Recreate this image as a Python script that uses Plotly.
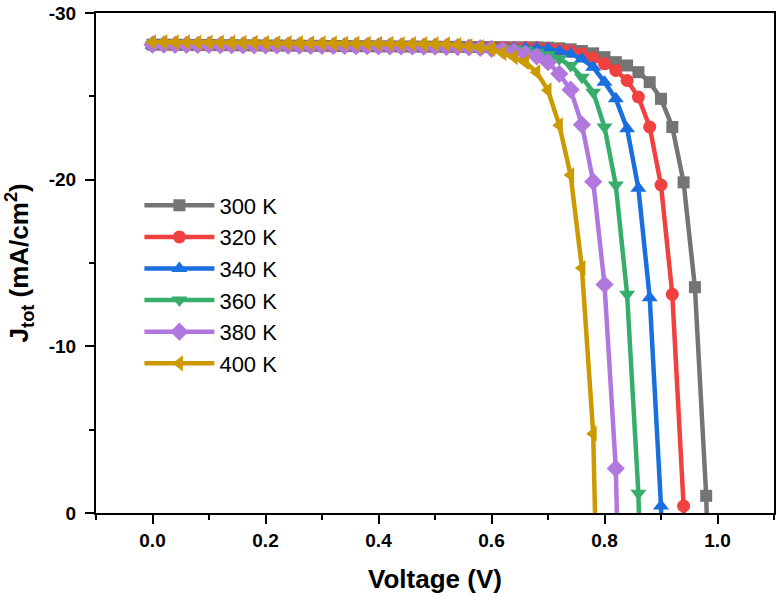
import plotly.graph_objects as go

# Voltage grid (V)
voltage = [0.00, 0.02, 0.04, 0.06, 0.08, 0.10, 0.12, 0.14, 0.16, 0.18,
           0.20, 0.22, 0.24, 0.26, 0.28, 0.30, 0.32, 0.34, 0.36, 0.38,
           0.40, 0.42, 0.44, 0.46, 0.48, 0.50, 0.52, 0.54, 0.56, 0.58,
           0.60, 0.62, 0.64, 0.66, 0.68, 0.70, 0.72, 0.74, 0.76, 0.78,
           0.80, 0.82, 0.84, 0.86, 0.88, 0.90, 0.92, 0.94, 0.96, 0.98, 1.00]

labels = ["300 K", "320 K", "340 K", "360 K", "380 K", "400 K"]

# Current density J_tot (mA/cm^2); last point of each series lies beyond Voc (off-axis)
j_300 = [-28.10, -28.10, -28.09, -28.09, -28.08, -28.08, -28.07, -28.07, -28.06, -28.06,
         -28.05, -28.05, -28.04, -28.04, -28.03, -28.03, -28.02, -28.02, -28.01, -28.01,
         -28.00, -28.00, -27.99, -27.99, -27.98, -27.98, -27.97, -27.97, -27.96, -27.96,
         -27.95, -27.95, -27.94, -27.94, -27.94, -27.92, -27.88, -27.82, -27.72, -27.58,
         -27.35, -27.05, -26.85, -26.45, -25.85, -24.85, -23.16, -19.84, -13.55, -1.03, 25.0]
j_320 = [-28.08, -28.08, -28.07, -28.07, -28.06, -28.06, -28.05, -28.05, -28.04, -28.04,
         -28.03, -28.03, -28.02, -28.02, -28.01, -28.01, -28.00, -28.00, -27.99, -27.99,
         -27.98, -27.98, -27.97, -27.97, -27.96, -27.96, -27.95, -27.95, -27.94, -27.94,
         -27.93, -27.93, -27.92, -27.93, -27.91, -27.87, -27.80, -27.70, -27.55, -27.30,
         -26.95, -26.55, -25.95, -24.96, -23.16, -19.68, -13.12, -0.42, 25.0]
j_340 = [-28.07, -28.07, -28.06, -28.06, -28.05, -28.05, -28.04, -28.04, -28.03, -28.03,
         -28.02, -28.02, -28.01, -28.01, -28.00, -28.00, -27.99, -27.99, -27.98, -27.98,
         -27.97, -27.97, -27.96, -27.96, -27.95, -27.95, -27.94, -27.94, -27.93, -27.93,
         -27.92, -27.91, -27.90, -27.89, -27.88, -27.85, -27.70, -27.54, -27.24, -26.75,
         -25.85, -24.85, -23.06, -19.48, -12.92, -0.42, 25.0]
j_360 = [-28.06, -28.06, -28.05, -28.05, -28.04, -28.04, -28.03, -28.03, -28.02, -28.02,
         -28.01, -28.01, -28.00, -28.00, -27.99, -27.99, -27.98, -27.98, -27.97, -27.97,
         -27.96, -27.96, -27.95, -27.95, -27.94, -27.94, -27.93, -27.93, -27.92, -27.92,
         -27.90, -27.88, -27.84, -27.78, -27.65, -27.50, -27.25, -26.85, -26.15, -25.25,
         -23.16, -19.68, -13.12, -1.18, 25.0]
j_380 = [-28.10, -28.10, -28.09, -28.09, -28.08, -28.08, -28.07, -28.07, -28.06, -28.06,
         -28.05, -28.05, -28.04, -28.04, -28.03, -28.03, -28.02, -28.02, -28.01, -28.01,
         -28.00, -28.00, -27.99, -27.99, -27.98, -27.98, -27.96, -27.95, -27.93, -27.90,
         -27.85, -27.78, -27.68, -27.55, -27.40, -27.05, -26.35, -25.40, -23.30, -19.88,
         -13.71, -2.67, 25.0]
j_400 = [-28.25, -28.25, -28.24, -28.24, -28.23, -28.23, -28.22, -28.22, -28.21, -28.21,
         -28.20, -28.20, -28.19, -28.19, -28.18, -28.18, -28.17, -28.17, -28.16, -28.16,
         -28.15, -28.15, -28.14, -28.14, -28.13, -28.13, -28.12, -28.08, -28.02, -27.95,
         -27.85, -27.60, -27.35, -27.05, -26.45, -25.36, -23.26, -20.28, -14.70, -4.76, 25.0]

series = [j_300, j_320, j_340, j_360, j_380, j_400]
colors = ["#747474", "#F14040", "#1A6FDF", "#37AD6B", "#B177DE", "#CC9900"]
symbols = ["square", "circle", "triangle-up", "triangle-down", "diamond", "triangle-left"]
sizes = [12, 13, 14, 14, 14, 14]

y_tickvals = [0, -10, -20, -30]
y_ticktext = ["0", "-10", "-20", "-30"]
x_tickvals = [0.0, 0.2, 0.4, 0.6, 0.8, 1.0]

fig = go.Figure()
for lab, jj, c, s, sz in zip(labels, series, colors, symbols, sizes):
    fig.add_trace(go.Scatter(
        x=voltage[:len(jj)], y=jj, name=lab, mode="lines+markers",
        line=dict(color=c, width=4.5),
        marker=dict(symbol=s, size=sz, color=c, line=dict(width=0)),
        cliponaxis=True,
    ))

font_family = "Liberation Sans, Arial, sans-serif"
fig.update_layout(
    width=779, height=597,
    margin=dict(l=96, r=3, t=11, b=84),
    plot_bgcolor="white", paper_bgcolor="white",
    font=dict(family=font_family, color="black"),
    showlegend=True,
    legend=dict(x=0.064, y=0.657, xanchor="left", yanchor="top",
                bgcolor="rgba(0,0,0,0)", borderwidth=0,
                font=dict(size=22, family=font_family, color="black"),
                itemwidth=70, tracegroupgap=0),
    xaxis=dict(
        range=[-0.1, 1.1], tickvals=x_tickvals, tickformat=".1f",
        ticks="outside", ticklen=9, tickwidth=2, tickcolor="black",
        showline=True, linewidth=2, linecolor="black", mirror=True,
        showgrid=False, zeroline=False,
        tickfont=dict(size=19, family=font_family, weight="bold"),
        minor=dict(dtick=0.1, tick0=0, ticks="outside", ticklen=5, tickwidth=2, tickcolor="black", showgrid=False),
        title=dict(text="<b>Voltage (V)</b>", font=dict(size=26, family=font_family), standoff=20),
    ),
    yaxis=dict(
        range=[0, -30], tickvals=y_tickvals, ticktext=y_ticktext,
        ticks="outside", ticklen=9, tickwidth=2, tickcolor="black",
        showline=True, linewidth=2, linecolor="black", mirror=True,
        showgrid=False, zeroline=False, ticklabelstandoff=5,
        ticklabeloverflow="allow",
        tickfont=dict(size=19, family=font_family, weight="bold"),
        minor=dict(dtick=5, tick0=0, ticks="outside", ticklen=5, tickwidth=2, tickcolor="black", showgrid=False),
    ),
    annotations=[dict(
        text="<b>J<sub>tot</sub> (mA/cm<sup>2</sup>)</b>", textangle=-90,
        xref="paper", yref="paper", x=-0.113, y=0.5, xanchor="center", yanchor="middle",
        showarrow=False, font=dict(size=26, family=font_family, color="black"),
    )],
)

fig.write_html("out.html")
